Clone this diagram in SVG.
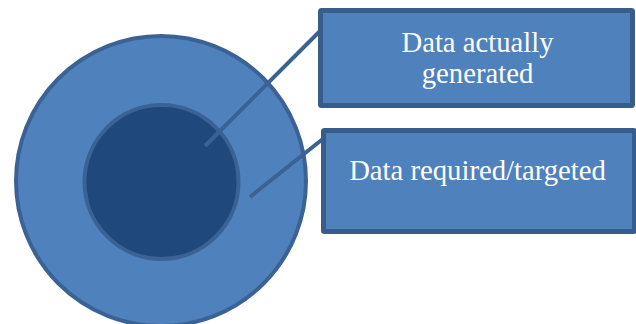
<svg xmlns="http://www.w3.org/2000/svg" width="636" height="324" viewBox="0 0 636 324">
<style>
.outer{fill:#4f81bd;stroke:#3b6294;stroke-width:4}
.inner{fill:#1f497d;stroke:#3b6294;stroke-width:4}
.box{fill:#4f81bd;stroke:#385d8a;stroke-width:5}
.conn{stroke:#3b6294;stroke-width:4;fill:none}
.lbl{font-family:"Liberation Serif","Times New Roman",serif;font-size:28.7px;fill:#ffffff;text-anchor:middle}
</style>
<rect width="636" height="324" fill="#ffffff"/>
<g id="outer-circle"><circle class="outer" cx="161" cy="181" r="145"/></g>
<g id="inner-circle"><circle class="inner" cx="161.5" cy="182" r="77"/></g>
<g id="connectors">
<line class="conn" x1="205" y1="146" x2="323" y2="28"/>
<line class="conn" x1="250" y1="197" x2="324" y2="138"/>
</g>
<g id="box-generated">
<rect class="box" x="320.5" y="10.5" width="312" height="95" rx="1"/>
<text class="lbl" x="477.5" y="52">Data actually</text>
<text class="lbl" x="477.5" y="83">generated</text>
</g>
<g id="box-required">
<rect class="box" x="323.5" y="130.5" width="311" height="101" rx="1"/>
<text class="lbl" x="477.5" y="180">Data required/targeted</text>
</g>
</svg>
